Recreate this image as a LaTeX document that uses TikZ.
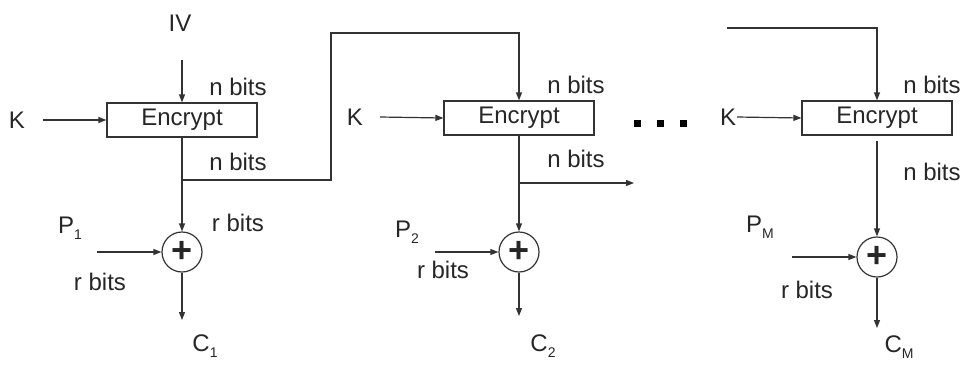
\documentclass[tikz,border=0pt]{standalone}
\usepackage{fontspec}
\setmainfont{Liberation Sans}
\usetikzlibrary{arrows.meta}
\newcommand\mysub[1]{\raisebox{-0.5ex}{\fontsize{14}{14}\selectfont #1}}
\begin{document}
\begin{tikzpicture}[x=1pt,y=-1pt,
  every node/.style={font=\fontsize{24}{27}\selectfont, inner sep=0pt, text=black!85},
  line/.style={draw=black!80, line width=1.2pt},
  arr/.style={line, -{Triangle[length=8pt,width=6pt]}},
  encbox/.style={draw=black!80, line width=1.2pt, minimum width=150pt, minimum height=34pt},
  xorc/.style={draw=black!80, line width=1.2pt, circle, minimum size=40pt},
  dotsq/.style={fill=black, minimum size=7pt}
]
\useasboundingbox (0,0) rectangle (972,368);
% stage 1
\node (iv) at (180,23) {IV};
\node[encbox] (box1) at (182,120) {Encrypt};
\node (k1) at (17,120) {K};
\node (nb1a) at (238,87) {n bits};
\node (nb1b) at (238,162) {n bits};
\node (rb1a) at (238,223) {r bits};
\node[xorc] (x1) at (182,252) {\fontsize{36}{36}\selectfont\bfseries +};
\node (p1) at (70,228) {P\mysub{1}};
\node (rb1b) at (100,282) {r bits};
\node (c1) at (205,346) {C\mysub{1}};
\coordinate (ivs) at (182,60);
\coordinate (k1s) at (43,120);
\coordinate (p1s) at (97,252);
\coordinate (c1e) at (182,320);
\coordinate (br1) at (182,180);
\coordinate (fb1a) at (331,180);
\coordinate (fb1b) at (331,33);
% stage 2
\node[encbox] (box2) at (519,118) {Encrypt};
\coordinate (fb1c) at (519,33);
\node (k2) at (355,117) {K};
\node (nb2a) at (576,85) {n bits};
\node (nb2b) at (576,159) {n bits};
\node[xorc] (x2) at (519,252) {\fontsize{36}{36}\selectfont\bfseries +};
\node (p2) at (407,232) {P\mysub{2}};
\node (rb2) at (443,270) {r bits};
\node (c2) at (543,346) {C\mysub{2}};
\coordinate (k2s) at (380,117);
\coordinate (p2s) at (435,252);
\coordinate (c2e) at (519,316);
\coordinate (br2) at (519,183);
\coordinate (br2e) at (634,183);
% dots
\node[dotsq] (d1) at (637,123) {};
\node[dotsq] (d2) at (660,123) {};
\node[dotsq] (d3) at (683,123) {};
% stage M
\node[encbox] (box3) at (877,118) {Encrypt};
\coordinate (fbm) at (727,28);
\coordinate (fbm2) at (877,28);
\node (k3) at (728,117) {K};
\node (nb3a) at (932,85) {n bits};
\node (nb3b) at (932,172) {n bits};
\node[xorc] (x3) at (877,257) {\fontsize{36}{36}\selectfont\bfseries +};
\node (p3) at (760,227) {P\mysub{M}};
\node (rb3) at (807,290) {r bits};
\node (c3) at (899,347) {C\mysub{M}};
\coordinate (k3s) at (737,117);
\coordinate (p3s) at (792,257);
\coordinate (c3e) at (877,328);
% connectors
\draw[arr] (ivs) -- (box1.north);
\draw[arr] (k1s) -- (box1.west);
\draw[arr] (box1.south) -- (x1.north);
\draw[arr] (p1s) -- (x1.west);
\draw[arr] (x1.south) -- (c1e);
\draw[arr] (br1) -- (fb1a) -- (fb1b) -- (fb1c) -- (box2.north);
\draw[arr] (k2s) -- (box2.west);
\draw[arr] (box2.south) -- (x2.north);
\draw[arr] (p2s) -- (x2.west);
\draw[arr] (x2.south) -- (c2e);
\draw[arr] (br2) -- (br2e);
\draw[arr] (fbm) -- (fbm2) -- (box3.north);
\draw[arr] (k3s) -- (box3.west);
\draw[arr] ([yshift=-5pt]box3.south) -- (x3.north);
\draw[arr] (p3s) -- (x3.west);
\draw[arr] (x3.south) -- (c3e);
\end{tikzpicture}
\end{document}
